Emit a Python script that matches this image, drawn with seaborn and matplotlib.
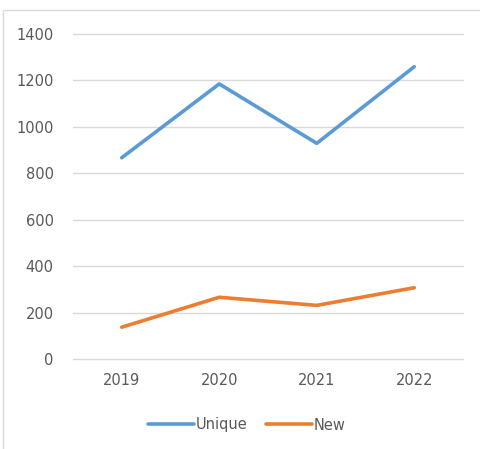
import matplotlib
matplotlib.use('Agg')
import matplotlib.pyplot as plt
import pandas as pd
import seaborn as sns
from matplotlib.patches import Rectangle

# Data
years = ['2019', '2020', '2021', '2022']
unique = [867, 1185, 929, 1259]
new = [137, 266, 231, 307]

df = pd.DataFrame({
    'year': years * 2,
    'value': unique + new,
    'series': ['Unique'] * 4 + ['New'] * 4,
})

sns.set_style('white')
plt.rcParams['font.family'] = ['DejaVu Sans']

fig = plt.figure(figsize=(4.8, 4.49), dpi=100)
ax = fig.add_axes([73 / 480, 1 - 359 / 449, 390 / 480, 325 / 449])

sns.lineplot(data=df, x='year', y='value', hue='series',
             palette={'Unique': '#5B9BD5', 'New': '#ED7D31'},
             linewidth=2.6, ax=ax, legend=False)

ax.set_ylim(0, 1400)
ax.set_xlim(-0.5, 3.5)
ax.set_yticks(range(0, 1401, 200))
ax.grid(axis='y', color='#D9D9D9', linewidth=1)
for gl in ax.get_ygridlines():
    gl.set_clip_on(False)
ax.set_axisbelow(True)
for s in ax.spines.values():
    s.set_visible(False)
ax.tick_params(axis='both', length=0, labelsize=10.5, labelcolor='#595959')
ax.tick_params(axis='y', pad=14)
ax.tick_params(axis='x', pad=10)
ax.set_xlabel('')
ax.set_ylabel('')

# Legend
handles = [plt.Line2D([], [], color='#5B9BD5', linewidth=2.6),
           plt.Line2D([], [], color='#ED7D31', linewidth=2.6)]
fig.legend(handles, ['Unique', 'New'], loc='center',
           bbox_to_anchor=(247 / 480, 1 - 425 / 449), ncol=2, frameon=False,
           handlelength=3.1, handletextpad=0.15, columnspacing=1.3,
           fontsize=10.5, labelcolor='#595959')

# Chart border
fig.patches.append(Rectangle((3 / 480, -0.01), 1.2, 1 - 10 / 449 + 0.01,
                             transform=fig.transFigure, fill=False,
                             edgecolor='#D9D9D9', linewidth=1))

plt.savefig('out.png', dpi=100)
